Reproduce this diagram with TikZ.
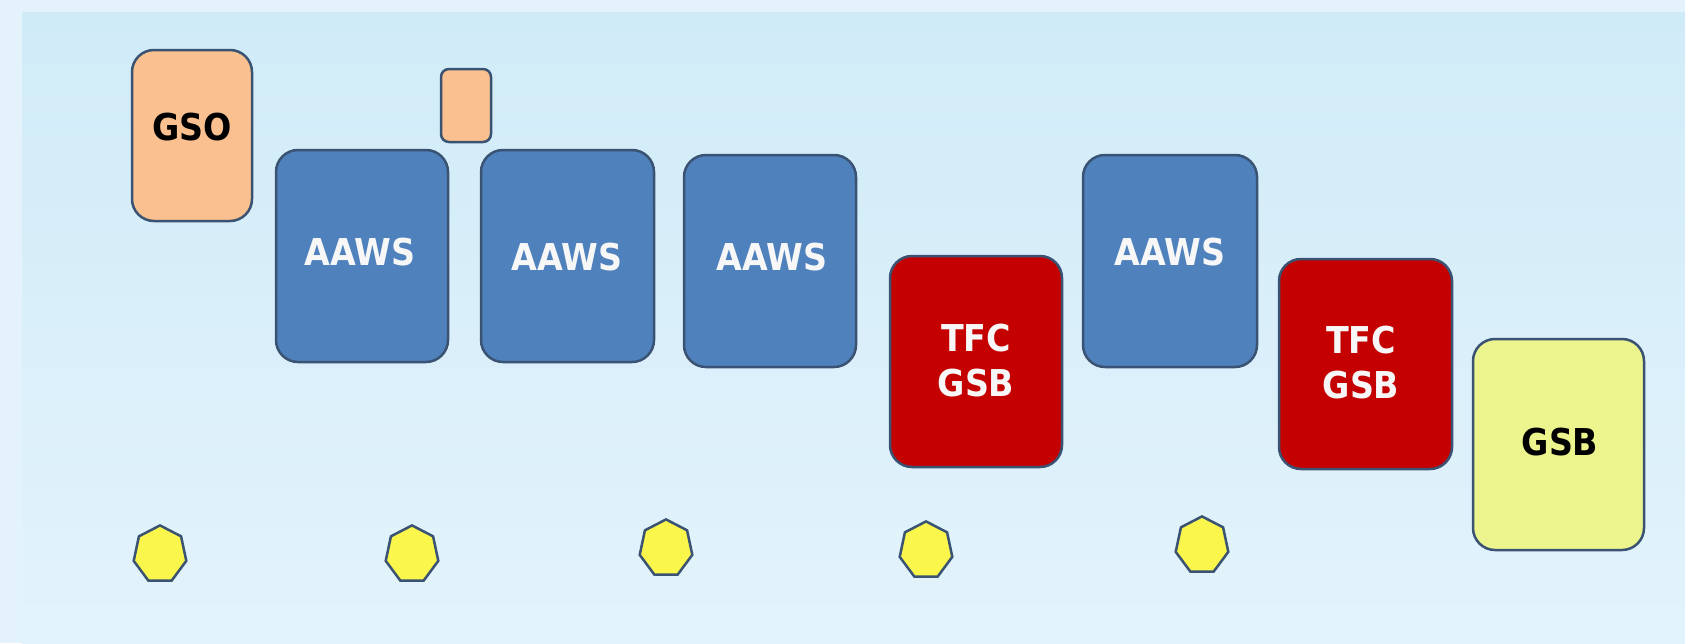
\documentclass[tikz,border=0pt]{standalone}
\usepackage{fontspec}
\newfontfamily\labfont[FakeStretch=0.9]{DejaVu Sans}
\usetikzlibrary{shapes.geometric}
\definecolor{outerbg}{HTML}{E4F3FB}
\definecolor{paneltop}{HTML}{D0EBF8}
\definecolor{panelbot}{HTML}{E3F3FB}
\definecolor{edgecol}{HTML}{3A5373}
\definecolor{orangefill}{HTML}{FAC08F}
\definecolor{bluefill}{HTML}{4F81BD}
\definecolor{redfill}{HTML}{C40000}
\definecolor{yellowfill}{HTML}{ECF48E}
\definecolor{heptfill}{HTML}{FAF64C}
\definecolor{lighttext}{HTML}{F7F7F7}
\tikzset{
  boxbase/.style={draw=edgecol, line width=2.5pt, rounded corners=22pt, inner sep=0pt, rectangle},
  orangebox/.style={boxbase, fill=orangefill},
  bluebox/.style={boxbase, fill=bluefill},
  redbox/.style={boxbase, fill=redfill},
  yellowbox/.style={boxbase, fill=yellowfill},
  heptagon/.style={regular polygon, regular polygon sides=7, minimum size=58pt, inner sep=0pt, draw=edgecol, line width=2.5pt, fill=heptfill, transform shape},
  darklab/.style={font=\labfont\bfseries\fontsize{37}{45}\selectfont, text=black, inner sep=0pt, align=center},
  lightlab/.style={font=\labfont\bfseries\fontsize{37}{45}\selectfont, text=lighttext, inner sep=0pt, align=center}
}
\begin{document}
\begin{tikzpicture}[x=1pt,y=-1pt]
% background
\fill[outerbg] (0,0) rectangle (1685,643);
\shade[top color=paneltop, bottom color=panelbot] (22,12) rectangle (1685,643);
\useasboundingbox (0,0) rectangle (1685,643);
% boxes
\node[orangebox, minimum width=120pt, minimum height=171pt] (gso) at (192,135.5) {};
\node[orangebox, rounded corners=8pt, minimum width=50pt, minimum height=73pt] (small) at (466,105.5) {};
\node[bluebox, minimum width=172pt, minimum height=212pt] (aaws1) at (362,256) {};
\node[bluebox, minimum width=173pt, minimum height=212pt] (aaws2) at (567.5,256) {};
\node[bluebox, minimum width=172pt, minimum height=212pt] (aaws3) at (770,261) {};
\node[redbox, minimum width=172pt, minimum height=211pt] (tfc1) at (976,361.5) {};
\node[bluebox, minimum width=174pt, minimum height=212pt] (aaws4) at (1170,261) {};
\node[redbox, minimum width=173pt, minimum height=210pt] (tfc2) at (1365.5,364) {};
\node[yellowbox, minimum width=171pt, minimum height=211pt] (gsb) at (1558.5,444.5) {};
% labels
\node[darklab] (tgso) at (192,127) {GSO};
\node[lightlab] (taaws1) at (360,252) {AAWS};
\node[lightlab] (taaws2) at (567,257) {AAWS};
\node[lightlab] (taaws3) at (772,257) {AAWS};
\node[lightlab] (ttfc1) at (976,360.5) {TFC\\GSB};
\node[lightlab] (taaws4) at (1170,252) {AAWS};
\node[lightlab] (ttfc2) at (1361,362.5) {TFC\\GSB};
\node[darklab] (tgsb) at (1560,442) {GSB};
% heptagons
\begin{scope}[shift={(160,554.4)}, xscale=0.93]
  \node[heptagon] (h1) at (0,0) {};
\end{scope}
\begin{scope}[shift={(412,554.4)}, xscale=0.93]
  \node[heptagon] (h2) at (0,0) {};
\end{scope}
\begin{scope}[shift={(666,548.4)}, xscale=0.93]
  \node[heptagon] (h3) at (0,0) {};
\end{scope}
\begin{scope}[shift={(926,550.4)}, xscale=0.93]
  \node[heptagon] (h4) at (0,0) {};
\end{scope}
\begin{scope}[shift={(1202,545.4)}, xscale=0.93]
  \node[heptagon] (h5) at (0,0) {};
\end{scope}
\end{tikzpicture}
\end{document}
